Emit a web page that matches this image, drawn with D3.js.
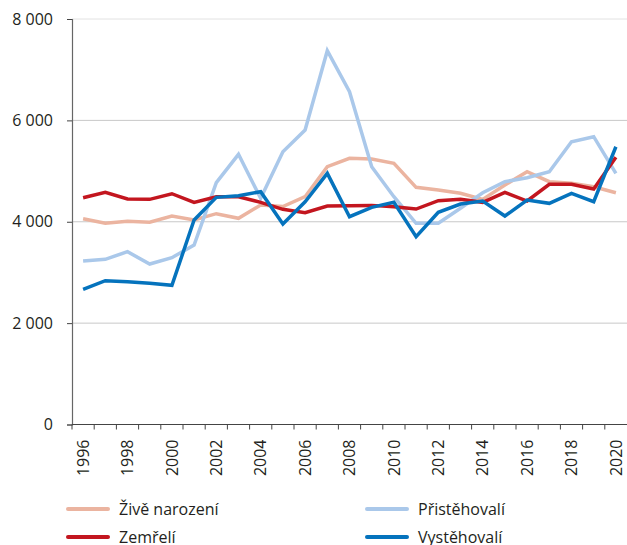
<!DOCTYPE html>
<html>
<head>
<meta charset="utf-8">
<script src="https://cdn.jsdelivr.net/npm/d3@7"></script>
<style>
  body { margin: 0; background: #fff; }
  text { font-family: "Open Sans", sans-serif; fill: #231f20; }
</style>
</head>
<body>
<svg width="627" height="545"></svg>
<script>
const years = d3.range(1996, 2021);
const yearLabels = years.filter(y => y % 2 === 0);
const yTicks = [0, 2000, 4000, 6000, 8000];
const yTickLabels = ['0', '2 000', '4 000', '6 000', '8 000'];

const zivenarozeni = [4060, 3969, 4008, 3989, 4113, 4034, 4159, 4068, 4330, 4300, 4494, 5086, 5251,
    5238, 5153, 4679, 4626, 4561, 4442, 4725, 4988, 4790, 4758, 4691, 4573];
const zemreli = [4474, 4581, 4449, 4442, 4553, 4383, 4494, 4494, 4383, 4245, 4179, 4310, 4317,
    4323, 4297, 4251, 4415, 4442, 4383, 4581, 4409, 4738, 4738, 4646, 5271];
const pristehovali = [3225, 3259, 3409, 3166, 3291, 3541, 4770, 5330, 4462, 5382, 5810, 7375, 6566,
    5086, 4494, 3969, 3969, 4265, 4573, 4790, 4869, 4988, 5579, 5678, 4955];
const vystehovali = [2667, 2837, 2817, 2785, 2746, 4034, 4481, 4514, 4593, 3955, 4395, 4955, 4100,
    4285, 4383, 3705, 4186, 4350, 4409, 4113, 4429, 4363, 4561, 4395, 5480];

const series = [
    { name: 'Živě narození', values: zivenarozeni, color: '#ebb4a0' },
    { name: 'Přistěhovalí', values: pristehovali, color: '#aac8ea' },
    { name: 'Zemřelí', values: zemreli, color: '#c3161f' },
    { name: 'Vystěhovalí', values: vystehovali, color: '#0573bd' }
];

const svg = d3.select('svg');

const xScale = d3.scaleBand()
    .domain(years)
    .range([72, 627]);

const yScale = d3.scaleLinear()
    .domain([0, 8000])
    .range([424.5, 19]);

// gridlines
svg.append('g').selectAll('line').data(yTicks.filter(d => d > 0))
    .enter().append('line')
    .attr('x1', 72).attr('x2', 627)
    .attr('y1', d => yScale(d)).attr('y2', d => yScale(d))
    .attr('stroke', d => d === 8000 ? '#e2e2e2' : '#c8c8c8')
    .attr('stroke-width', 1);

// y axis
const yAxis = svg.append('g')
    .attr('transform', 'translate(72,0)')
    .call(d3.axisLeft(yScale).tickValues(yTicks)
        .tickFormat((d, i) => yTickLabels[i]).tickSize(5).tickPadding(14));
yAxis.select('.domain').attr('stroke', '#666').attr('stroke-width', 1.2);
yAxis.selectAll('.tick line').attr('stroke', '#444');
yAxis.selectAll('text').style('font-size', '16px').attr('fill', '#231f20');

// x axis, ticks on band edges
const xAxisG = svg.append('g').attr('transform', `translate(0,${yScale(0)})`);
xAxisG.append('line')
    .attr('x1', 72).attr('x2', 627)
    .attr('stroke', '#444').attr('stroke-width', 1.2);
xAxisG.selectAll('line.tk').data(years)
    .enter().append('line')
    .attr('class', 'tk')
    .attr('x1', d => xScale(d)).attr('x2', d => xScale(d))
    .attr('y1', 0).attr('y2', 5)
    .attr('stroke', '#444');
xAxisG.selectAll('text').data(yearLabels)
    .enter().append('text')
    .attr('transform', d => `translate(${xScale(d) + xScale.bandwidth() / 2},15) rotate(-90)`)
    .attr('text-anchor', 'end')
    .attr('dy', '0.35em')
    .style('font-size', '16px')
    .text(d => d);

// lines
const line = d3.line()
    .x((d, i) => xScale(years[i]) + xScale.bandwidth() / 2)
    .y(d => yScale(d));

svg.append('g').selectAll('path').data(series)
    .enter().append('path')
    .attr('d', d => line(d.values))
    .attr('fill', 'none')
    .attr('stroke', d => d.color)
    .attr('stroke-width', 3.5)
    .attr('stroke-linejoin', 'miter');

// legend
const legend = svg.append('g').selectAll('g').data(series)
    .enter().append('g')
    .attr('transform', (d, i) => `translate(${i % 2 === 0 ? 68 : 367},${i < 2 ? 509 : 537})`);
legend.append('line')
    .attr('x1', 0).attr('x2', 40)
    .attr('stroke', d => d.color)
    .attr('stroke-width', 4)
    .attr('stroke-linecap', 'round');
legend.append('text')
    .attr('x', 51)
    .attr('dy', '0.35em')
    .style('font-size', '16px')
    .text(d => d.name);
</script>
</body>
</html>
